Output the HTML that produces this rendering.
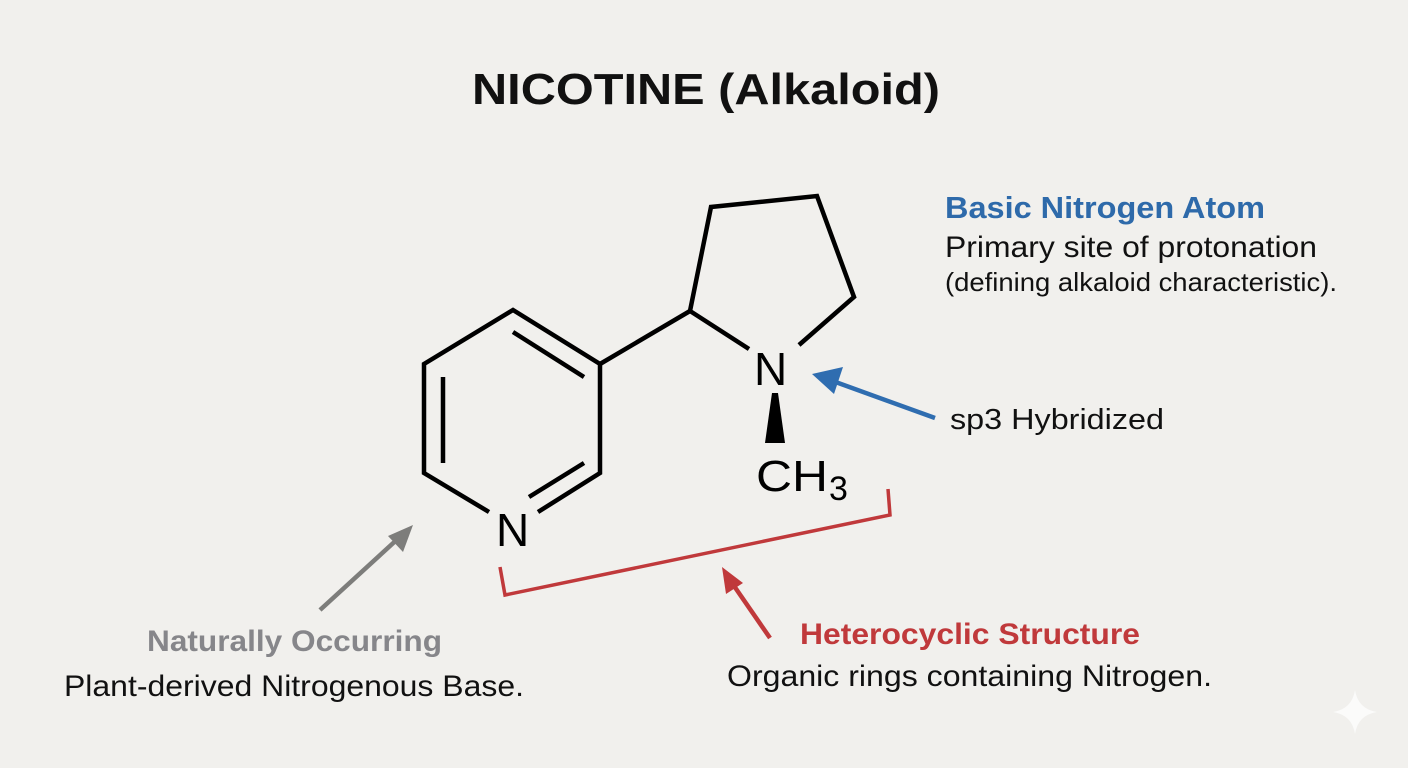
<!DOCTYPE html>
<html><head><meta charset="utf-8"><style>
html,body{margin:0;padding:0;background:#f1f0ed;}
svg{display:block;font-family:"Liberation Sans",Arial,sans-serif;}
</style></head><body>
<svg width="1408" height="768" viewBox="0 0 1408 768">
<rect width="1408" height="768" fill="#f1f0ed"/>
<text x="472" y="104" font-size="44" font-weight="bold" fill="#111" textLength="468" lengthAdjust="spacingAndGlyphs">NICOTINE (Alkaloid)</text>
<g stroke="#000" stroke-width="4.5" fill="none" stroke-linejoin="miter">
<polyline points="489,512 424,473 424,364 513,310 600,364 600,473 538,512"/>
<line x1="443" y1="377" x2="443" y2="463"/>
<line x1="513" y1="332" x2="584" y2="377"/>
<line x1="529" y1="497" x2="584" y2="463"/>
<line x1="600" y1="364" x2="690" y2="311"/>
<polyline points="749,349 690,311 711,207 817,196 854,297 799,345"/>
</g>
<polygon points="772,393 778,393 785,443 765,443" fill="#000"/>
<text x="496" y="546" font-size="46" fill="#000">N</text>
<text x="754" y="385" font-size="46" fill="#000">N</text>
<text x="756" y="491" font-size="44" fill="#000" textLength="72" lengthAdjust="spacingAndGlyphs">CH</text>
<text x="829" y="500" font-size="34" fill="#000">3</text>
<polyline points="500,567 505,595 890,515 888,489" stroke="#c0393b" stroke-width="3.5" fill="none"/>
<g stroke-width="4.5">
<line x1="935" y1="418" x2="830" y2="380" stroke="#2f6db0"/>
<polygon points="812,374 843,367 834,394" fill="#2f6db0"/>
<line x1="320" y1="610" x2="402" y2="535" stroke="#7d7d7b"/>
<polygon points="413,525 403,552 388,536" fill="#7d7d7b"/>
<line x1="770" y1="638" x2="732" y2="583" stroke="#c0393b"/>
<polygon points="722,567 743,583 726,594" fill="#c0393b"/>
</g>
<text x="945" y="218" font-size="31" font-weight="bold" fill="#2e6aaa" textLength="320" lengthAdjust="spacingAndGlyphs">Basic Nitrogen Atom</text>
<text x="945" y="257" font-size="30" fill="#111" textLength="372" lengthAdjust="spacingAndGlyphs">Primary site of protonation</text>
<text x="945" y="291" font-size="26" fill="#111" textLength="392" lengthAdjust="spacingAndGlyphs">(defining alkaloid characteristic).</text>
<text x="950" y="429" font-size="29" fill="#111" textLength="214" lengthAdjust="spacingAndGlyphs">sp3 Hybridized</text>
<text x="147" y="651" font-size="30" font-weight="bold" fill="#86868a" textLength="295" lengthAdjust="spacingAndGlyphs">Naturally Occurring</text>
<text x="64" y="696" font-size="30" fill="#111" textLength="460" lengthAdjust="spacingAndGlyphs">Plant-derived Nitrogenous Base.</text>
<text x="800" y="644" font-size="30" font-weight="bold" fill="#c0393b" textLength="340" lengthAdjust="spacingAndGlyphs">Heterocyclic Structure</text>
<text x="727" y="686" font-size="30" fill="#111" textLength="485" lengthAdjust="spacingAndGlyphs">Organic rings containing Nitrogen.</text>
<path d="M1355,690 Q1358,709 1377,712 Q1358,715 1355,734 Q1352,715 1333,712 Q1352,709 1355,690 Z" fill="#fbfbfa"/>
</svg>
</body></html>
